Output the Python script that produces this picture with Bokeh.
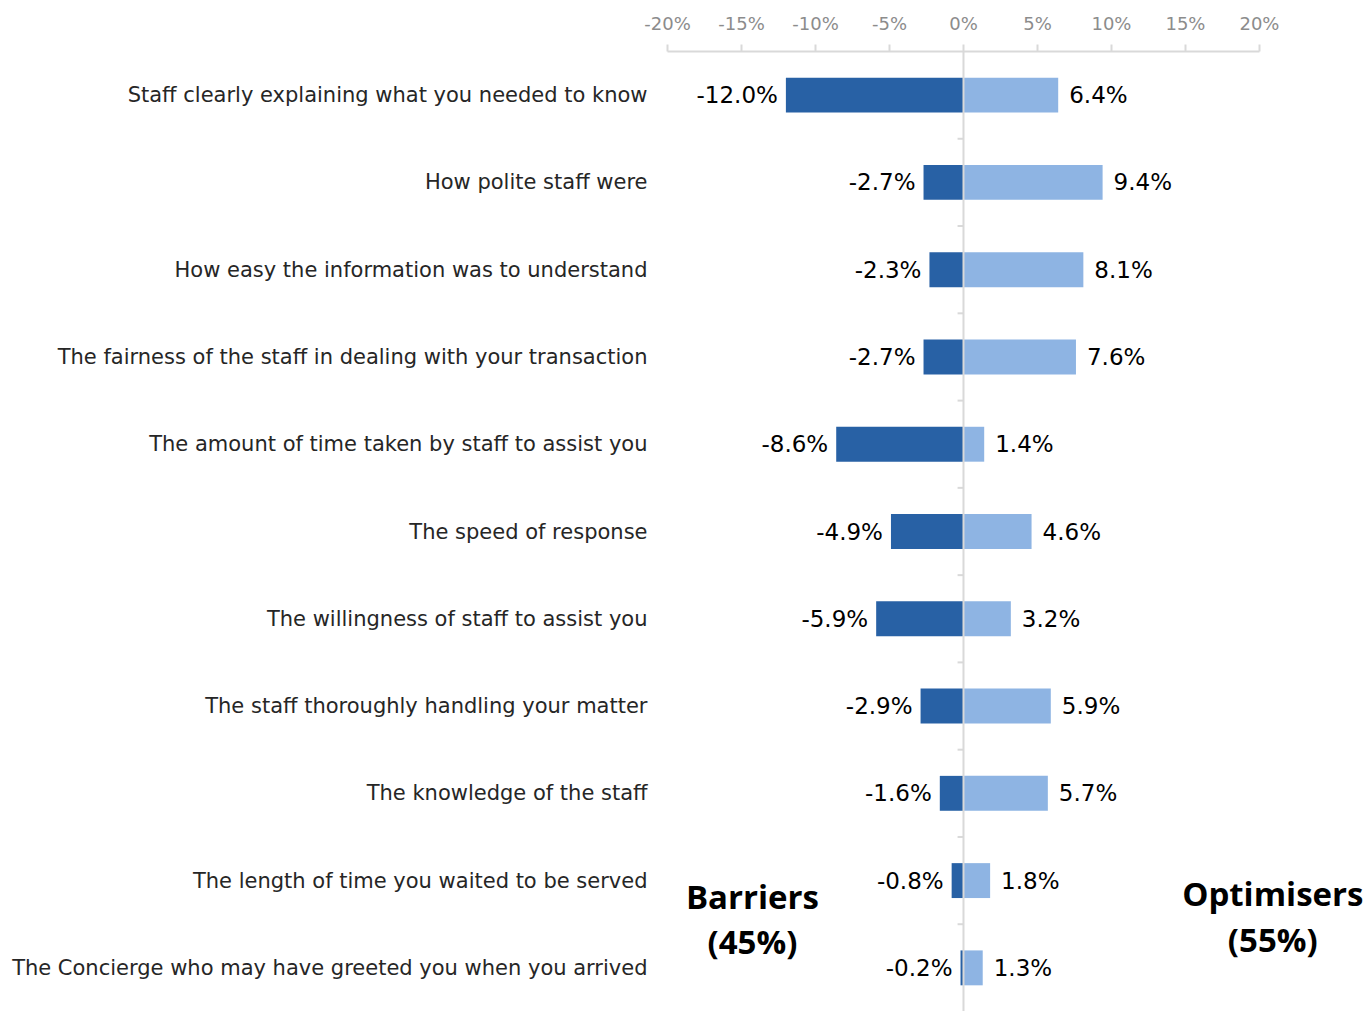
from bokeh.plotting import figure
from bokeh.models import (Range1d, FixedTicker, PrintfTickFormatter, Span, Label,
                          ColumnDataSource)
from bokeh.core.properties import value
from bokeh.embed import file_html
from bokeh.resources import INLINE

categories = [
    "Staff clearly explaining what you needed to know",
    "How polite staff were",
    "How easy the information was to understand",
    "The fairness of the staff in dealing with your transaction",
    "The amount of time taken by staff to assist you",
    "The speed of response",
    "The willingness of staff to assist you",
    "The staff thoroughly handling your matter",
    "The knowledge of the staff",
    "The length of time you waited to be served",
    "The Concierge who may have greeted you when you arrived",
]
barriers = [-12.0, -2.7, -2.3, -2.7, -8.6, -4.9, -5.9, -2.9, -1.6, -0.8, -0.2]
optimisers = [6.4, 9.4, 8.1, 7.6, 1.4, 4.6, 3.2, 5.9, 5.7, 1.8, 1.3]
x_ticks = [-20, -15, -10, -5, 0, 5, 10, 15, 20]

FONT = "DejaVu Sans"
BOLD_FONT = "Open Sans"
DARK = "#2861A5"
LIGHT = "#8EB4E3"
GRID = "#d9d9d9"

n = len(categories)
ys = [i + 0.5 for i in range(n)]

p = figure(width=1371, height=1011, output_backend="svg", toolbar_location=None,
           x_axis_location="above",
           x_range=Range1d(-20, 27.57), y_range=Range1d(n, 0),
           min_border_left=667, min_border_right=0, min_border_top=51,
           min_border_bottom=0)
p.outline_line_color = None
p.xgrid.visible = False
p.ygrid.visible = False
p.background_fill_color = "white"
p.border_fill_color = "white"

# top axis
xa = p.xaxis[0]
xa.ticker = FixedTicker(ticks=x_ticks)
xa.formatter = PrintfTickFormatter(format="%d%%")
xa.bounds = (x_ticks[0], x_ticks[-1])
xa.axis_line_color = GRID
xa.axis_line_width = 2
xa.major_tick_line_color = GRID
xa.major_tick_line_width = 2
xa.major_tick_out = 7
xa.major_tick_in = 0
xa.minor_tick_line_color = None
xa.major_label_text_font = FONT
xa.major_label_text_font_size = "18px"
xa.major_label_text_color = "#8c8c8c"
xa.major_label_standoff = 11

# left category axis
ya = p.yaxis[0]
ya.ticker = FixedTicker(ticks=ys)
ya.major_label_overrides = {y: c for y, c in zip(ys, categories)}
ya.axis_line_color = None
ya.major_tick_line_color = None
ya.minor_tick_line_color = None
ya.major_label_standoff = 14
ya.major_label_text_font = FONT
ya.major_label_text_font_size = "21px"
ya.major_label_text_color = "#262626"

src = ColumnDataSource(dict(
    y=ys, neg=barriers, pos=optimisers,
    neg_lbl=[f"{v:.1f}%" for v in barriers],
    pos_lbl=[f"{v:.1f}%" for v in optimisers],
))

p.hbar(y="y", left=0, right="neg", height=0.4, source=src,
       fill_color=DARK, line_color=None)
p.hbar(y="y", left=0, right="pos", height=0.4, source=src,
       fill_color=LIGHT, line_color=None)

p.add_layout(Span(location=0, dimension="height", line_color=GRID, line_width=2))

# small boundary ticks on the zero line
bounds_y = list(range(1, n))
p.segment(x0=[-0.4] * len(bounds_y), x1=[0] * len(bounds_y), y0=bounds_y, y1=bounds_y,
          line_color=GRID, line_width=2)

p.text(x="neg", y="y", text="neg_lbl", source=src, x_offset=-8,
       text_align="right", text_baseline="middle",
       text_font=value(FONT), text_font_size="23px", text_color="#000000")
p.text(x="pos", y="y", text="pos_lbl", source=src, x_offset=11,
       text_align="left", text_baseline="middle",
       text_font=value(FONT), text_font_size="23px", text_color="#000000")

for txt, x, y in [("Barriers", -14.26, 9.68), ("(45%)", -14.26, 10.2),
                  ("Optimisers", 20.9, 9.65), ("(55%)", 20.9, 10.17)]:
    p.add_layout(Label(x=x, y=y, text=txt, text_align="center", text_baseline="middle",
                       text_font=BOLD_FONT, text_font_size="33px", text_font_style="bold",
                       text_color="#000000"))

open("out.html", "w").write(file_html(p, INLINE))
